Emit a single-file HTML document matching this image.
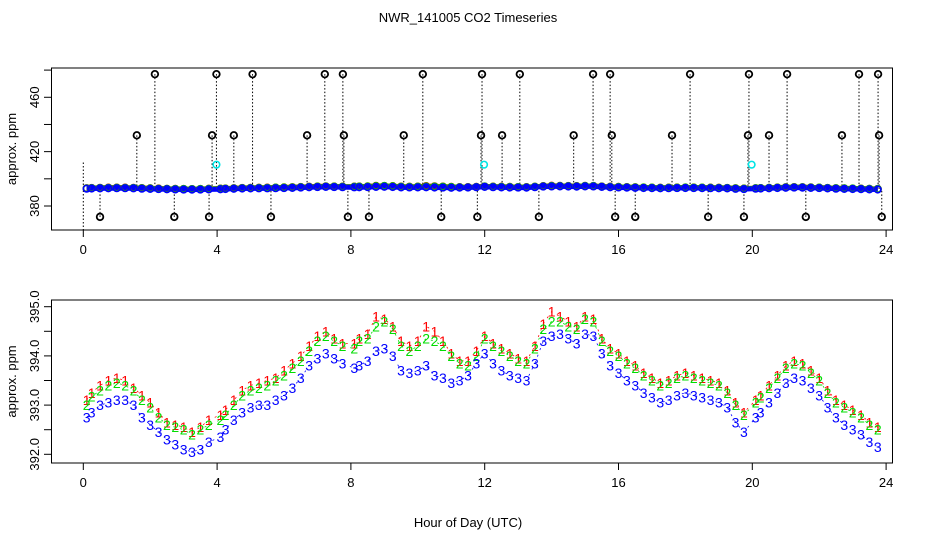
<!DOCTYPE html>
<html><head><meta charset="utf-8"><style>
body{margin:0;background:#fff;}
svg{display:block;font-family:"Liberation Sans",sans-serif;}
</style></head><body>
<svg id="chart" width="936" height="540" viewBox="0 0 936 540" xmlns="http://www.w3.org/2000/svg">
<rect width="936" height="540" fill="#fff"/>
<text x="468" y="22" font-size="13" text-anchor="middle">NWR_141005  CO2 Timeseries</text>
<text x="468" y="527" font-size="13" text-anchor="middle">Hour of Day (UTC)</text>
<g id="topPanel"></g>
<g id="botPanel"></g>
</svg>
<script>
// ---- data ----
const hours = [0.1,0.25,0.5,0.75,1.0,1.25,1.5,1.75,2.0,2.25,2.5,2.75,3.0,3.25,3.5,3.75,
4.1,4.25,4.5,4.75,5.0,5.25,5.5,5.75,6.0,6.25,6.5,6.75,7.0,7.25,7.5,7.75,
8.1,8.25,8.5,8.75,9.0,9.25,9.5,9.75,10.0,10.25,10.5,10.75,11.0,11.25,11.5,11.75,
12.0,12.25,12.5,12.75,13.0,13.25,13.5,13.75,14.0,14.25,14.5,14.75,15.0,15.25,15.5,15.75,
16.0,16.25,16.5,16.75,17.0,17.25,17.5,17.75,18.0,18.25,18.5,18.75,19.0,19.25,19.5,19.75,
20.1,20.25,20.5,20.75,21.0,21.25,21.5,21.75,22.0,22.25,22.5,22.75,23.0,23.25,23.5,23.75];
const series2 = [393.0,393.17,393.3,393.4,393.45,393.4,393.3,393.1,392.95,392.75,392.6,392.55,392.5,392.4,392.5,392.6,
392.7,392.8,393.0,393.2,393.3,393.35,393.4,393.5,393.6,393.75,393.9,394.1,394.3,394.4,394.3,394.2,
394.15,394.3,394.35,394.6,394.7,394.55,394.2,394.1,394.2,394.35,394.3,394.2,394.0,393.85,393.8,394.0,
394.35,394.2,394.1,394.0,393.9,393.85,394.15,394.55,394.7,394.7,394.6,394.55,394.75,394.7,394.3,394.1,
394.0,393.85,393.75,393.6,393.5,393.4,393.45,393.55,393.6,393.55,393.5,393.45,393.4,393.25,393.0,392.8,
393.05,393.15,393.35,393.55,393.75,393.85,393.8,393.65,393.5,393.25,393.05,392.95,392.85,392.75,392.6,392.5];
const series1 = [393.1,393.25,393.4,393.5,393.55,393.5,393.35,393.2,393.05,392.85,392.65,392.6,392.55,392.45,392.55,392.7,
392.8,392.9,393.1,393.3,393.4,393.45,393.5,393.55,393.7,393.85,394.0,394.2,394.4,394.5,394.35,394.25,
394.25,394.35,394.45,394.8,394.75,394.6,394.3,394.2,394.3,394.6,394.5,394.3,394.05,393.9,393.9,394.1,
394.4,394.25,394.15,394.05,393.95,393.9,394.2,394.65,394.9,394.8,394.7,394.6,394.8,394.75,394.35,394.15,
394.05,393.9,393.8,393.65,393.55,393.45,393.5,393.6,393.65,393.6,393.55,393.5,393.45,393.3,393.05,392.85,
393.1,393.2,393.4,393.6,393.8,393.9,393.85,393.7,393.55,393.3,393.1,393.0,392.9,392.8,392.65,392.55];
const series3 = [392.75,392.85,393.0,393.05,393.1,393.1,393.0,392.75,392.6,392.45,392.3,392.2,392.1,392.05,392.1,392.25,
392.35,392.5,392.7,392.85,392.95,393.0,393.0,393.1,393.2,393.35,393.55,393.8,393.95,394.05,393.95,393.85,
393.75,393.8,393.9,394.1,394.15,394.0,393.7,393.65,393.7,393.8,393.6,393.55,393.45,393.5,393.6,393.85,
394.05,393.85,393.7,393.6,393.55,393.5,393.85,394.3,394.4,394.45,394.35,394.25,394.45,394.4,394.05,393.8,
393.65,393.5,393.4,393.25,393.15,393.05,393.1,393.2,393.25,393.2,393.15,393.1,393.05,392.95,392.65,392.45,
392.75,392.85,393.05,393.25,393.45,393.55,393.5,393.35,393.2,392.95,392.75,392.6,392.5,392.4,392.25,392.15];
const highHours = [2.14,3.98,5.06,7.22,7.76,10.15,11.92,13.05,15.24,15.75,18.14,19.9,21.04,23.19,23.76];
const midHours = [1.6,3.85,4.5,6.69,7.79,9.58,11.89,12.52,14.66,15.8,17.6,19.87,20.5,22.68,23.79];
const lowHours = [0.5,2.72,3.76,5.61,7.91,8.54,10.7,11.78,13.62,15.9,16.5,18.68,19.75,21.6,23.87];
const highVal = 477, midVal = 432, lowVal = 372;
const cyanHours = [3.98,11.98,19.98];
const cyanVal = 410.4;
const xTicks = [0,4,8,12,16,20,24];
const topYTicks = [380,400,420,440,460,480];
const topYLabels = ["380","","420","","460",""];
const botYTicks = [392.0,392.5,393.0,393.5,394.0,394.5,395.0];
const botYLabels = ["392.0","","393.0","","394.0","","395.0"];

// ---- scales ----
const NS="http://www.w3.org/2000/svg";
const xs = h => 83.3 + h*33.45;
const yTop = v => 206 - (v-380)*1.359;
const yBot = v => 306.7 + (395-v)*49.2;
function mk(tag, attrs, parent){const e=document.createElementNS(NS,tag);for(const k in attrs)e.setAttribute(k,attrs[k]);parent.appendChild(e);return e;}

function axes(g, y0, y1, yScale, ticks, labels, prefix){
  const box = mk('rect',{x:51.5,y:y0,width:841,height:y1-y0,fill:'none',stroke:'#000','stroke-width':1},g);
  
  
  mk('line',{x1:xs(0),x2:xs(24),y1:y1,y2:y1,stroke:'#000'},g);
  xTicks.forEach(t=>{
    mk('line',{x1:xs(t),x2:xs(t),y1:y1,y2:y1+7,stroke:'#000'},g);
    const tx = mk('text',{x:xs(t),y:y1+24,'font-size':13,'text-anchor':'middle'},g);
    tx.textContent=t;
    
    
  });
  ticks.forEach((t,i)=>{
    const y=yScale(t);
    mk('line',{x1:44,x2:51.5,y1:y,y2:y,stroke:'#000'},g);
    if(labels[i]){
      const tx=mk('text',{x:0,y:0,'font-size':13,'text-anchor':'middle',transform:`translate(39,${y}) rotate(-90)`},g);
      tx.textContent=labels[i];
      
      
    }
  });
  const yl=mk('text',{x:0,y:0,'font-size':13,'text-anchor':'middle',transform:`translate(16,${(y0+y1)/2}) rotate(-90)`},g);
  yl.textContent='approx. ppm';
  
  
}

// ---- top panel ----
const topG=document.getElementById('topPanel');


axes(topG,68,230,yTop,topYTicks,topYLabels,'top');
function outliers(hs,val){
  hs.forEach(h=>{
    mk('line',{x1:xs(h),x2:xs(h),y1:yTop(val),y2:yTop(392.5),stroke:'#000','stroke-dasharray':'1.5,2','stroke-width':1},topG);
  });
}
outliers(highHours,highVal);outliers(midHours,midVal);outliers(lowHours,lowVal);
mk('line',{x1:xs(0),x2:xs(0),y1:yTop(412),y2:232,stroke:'#000','stroke-dasharray':'1.5,2'},topG);
[[series1,'#ff0000'],[series2,'#00cc00'],[series3,'#0000ff']].forEach(([s,c])=>{
  mk('polyline',{points:hours.map((h,i)=>xs(h)+','+yTop(s[i])).join(' '),fill:'none',stroke:c,'stroke-width':5},topG);
});
hours.forEach((h,i)=>{
  [[series1,'#ff0000'],[series2,'#00cc00'],[series3,'#0000ff']].forEach(([s,c])=>{
    const p=mk('circle',{cx:xs(h),cy:yTop(s[i]),r:3.3,fill:'none',stroke:c,'stroke-width':1.6},topG);
    
    
  });
});
function outlierPts(hs,val){
  hs.forEach(h=>{
    const p=mk('circle',{cx:xs(h),cy:yTop(val),r:3.3,fill:'none',stroke:'#000','stroke-width':1.8},topG);
    
    
  });
}
outlierPts(highHours,highVal);outlierPts(midHours,midVal);outlierPts(lowHours,lowVal);
cyanHours.forEach(h=>{
  const p=mk('circle',{cx:xs(h),cy:yTop(cyanVal),r:3.3,fill:'none',stroke:'#00e5e5','stroke-width':1.6},topG);
  
  
});

// ---- bottom panel ----
const botG=document.getElementById('botPanel');


axes(botG,300,463,yBot,botYTicks,botYLabels,'bottom');
[[series1,'#ff0000','1'],[series2,'#00dd00','2'],[series3,'#0000ff','3']].forEach(([s,c,ch])=>{
  const g=mk('g',{},botG);
  
  
  mk('polyline',{points:hours.map((h,i)=>xs(h)+','+yBot(s[i])).join(' '),fill:'none',stroke:c,'stroke-width':0.8,'stroke-dasharray':'2,5'},g);
  hours.forEach((h,i)=>{
    const t=mk('text',{x:xs(h),y:yBot(s[i])+5,'font-size':14,fill:c,'text-anchor':'middle'},g);
    t.textContent=ch;
    
    
  });
});
</script>
</body></html>
